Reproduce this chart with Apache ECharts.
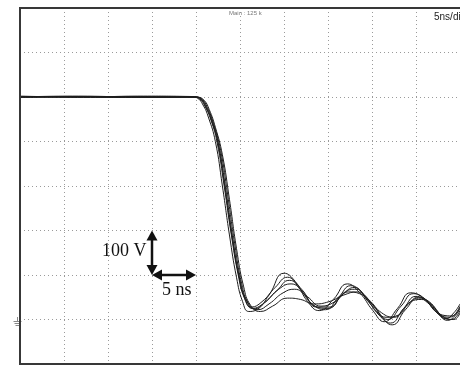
<!DOCTYPE html>
<html>
<head>
<meta charset="utf-8">
<style>
  html, body { margin: 0; padding: 0; background: #fff; }
  #scope { width: 460px; height: 365px; }
</style>
<script src="https://cdn.jsdelivr.net/npm/echarts@6/dist/echarts.min.js"></script>
</head>
<body>
<div id="scope"></div>
<script>
// Time base 5 ns/div over 10 divisions; vertical 100 V/div, ground at 0 V.
const timeRange = [0, 50];
const timeStep = 5;
const voltRange = [-100, 700];
const voltStep = 100;

// Overlaid acquisitions of the falling edge: [time ns, volts]
const sweep1 = [[0,500],[6,501],[12,499],[19.6,500],[20.2,497],[20.8,482],[21.4,455],[22.2,400],[23.0,300],[23.8,190],[24.6,95],[25.3,40],[26.0,18],[26.9,22],[28.3,55],[30.0,104],[31.3,85],[32.7,40],[34.0,20],[35.6,45],[37.2,80],[38.6,60],[40.1,20],[41.4,-5],[42.9,25],[44.4,60],[45.7,50],[47.2,20],[48.4,2],[49.3,15],[50,35]];
const sweep2 = [[0,502],[7,500],[14,502],[19.8,501],[20.5,496],[21.1,478],[21.8,445],[22.5,395],[23.3,295],[24.1,185],[24.9,95],[25.6,45],[26.4,25],[27.6,35],[29.2,65],[30.6,88],[32.0,68],[33.5,30],[35.0,25],[36.6,55],[38.0,72],[39.3,48],[40.8,10],[42.1,-8],[43.6,25],[45.0,52],[46.3,38],[47.8,8],[49.0,0],[50,20]];
const sweep3 = [[0,499],[5,500],[11,501],[20.0,500],[20.7,495],[21.3,476],[22.0,440],[22.8,380],[23.6,280],[24.4,170],[25.2,80],[26.0,35],[27.0,22],[28.3,35],[29.9,60],[31.2,68],[32.6,52],[34.2,30],[35.8,40],[37.3,62],[38.6,58],[40.0,35],[41.6,5],[43.0,10],[44.4,40],[45.6,45],[47.1,25],[48.6,-2],[49.5,10],[50,25]];
const sweep4 = [[0,501],[8,499],[15,500],[19.7,500],[20.4,496],[21.0,480],[21.7,448],[22.4,398],[23.2,300],[24.0,192],[24.8,100],[25.5,48],[26.3,28],[27.5,40],[29.0,72],[30.4,95],[31.7,72],[33.2,35],[34.7,22],[36.2,50],[37.6,76],[38.9,60],[40.4,25],[41.8,0],[43.3,30],[44.7,58],[45.9,48],[47.4,15],[48.8,5],[50,30]];
const sweep5 = [[0,500],[6,502],[13,500],[20.2,499],[20.9,493],[21.5,472],[22.2,432],[23.0,370],[23.8,270],[24.6,160],[25.4,75],[26.2,32],[27.3,18],[28.7,30],[30.4,48],[31.9,45],[33.4,35],[35.1,40],[36.8,55],[38.3,62],[39.6,45],[41.1,15],[42.5,5],[43.9,30],[45.3,50],[46.7,35],[48.2,5],[49.3,0],[50,15]];
const sweep6 = [[0,500],[9,501],[16,499],[19.9,500],[20.6,495],[21.2,477],[21.9,442],[22.6,390],[23.4,290],[24.2,180],[25.0,88],[25.8,40],[26.6,24],[27.8,38],[29.4,68],[30.8,80],[32.2,60],[33.7,28],[35.2,28],[36.8,60],[38.2,68],[39.5,42],[41.0,8],[42.3,-12],[43.8,22],[45.3,48],[46.5,40],[48.0,10],[49.1,8],[50,28]];
const sweeps = [sweep1, sweep2, sweep3, sweep4, sweep5, sweep6];

// Scale markers: one division in each direction, from the shared corner
const markerCorner = [15, 100];
const voltMarkerEnd = [15, 200];
const timeMarkerEnd = [20, 100];
const voltMarkerText = '100 V';
const timeMarkerText = '5 ns';
const recordText = 'Main : 125 k';
const timebaseText = '5ns/div';

const chart = echarts.init(document.getElementById('scope'), null, { renderer: 'canvas' });

const dotted = { type: [1, 3], color: '#9a9a9a', width: 1 };

chart.setOption({
  animation: false,
  backgroundColor: '#fff',
  grid: { left: 20, top: 8, width: 446, height: 356, show: false },
  xAxis: {
    type: 'value', min: timeRange[0], max: timeRange[1], interval: timeStep,
    axisLine: { show: false }, axisTick: { show: false }, axisLabel: { show: false },
    splitLine: { show: true, lineStyle: dotted }
  },
  yAxis: {
    type: 'value', min: voltRange[0], max: voltRange[1], interval: voltStep,
    axisLine: { show: false }, axisTick: { show: false }, axisLabel: { show: false },
    splitLine: { show: true, lineStyle: dotted }
  },
  series: sweeps.map(function (pts) {
    return {
      type: 'line',
      data: pts,
      showSymbol: false,
      smooth: 0.5,
      silent: true,
      lineStyle: { color: '#1e1e1e', width: 1 },
      z: 5
    };
  })
});

// Frame and annotations placed from the axis scales
const px = function (p) { return chart.convertToPixel({ gridIndex: 0 }, p); };
const topLeft = px([timeRange[0], voltRange[1]]);
const bottomLeft = px([timeRange[0], voltRange[0]]);
const bottomRight = px([timeRange[1], voltRange[0]]);
const topRight = px([timeRange[1], voltRange[1]]);
const corner = px(markerCorner);
const vEnd = px(voltMarkerEnd);
const tEnd = px(timeMarkerEnd);
const gnd = px([0, 0]);

const headLen = 10, headHalf = 5.5;
const ink = '#111';
function head(tip, dir) {
  // dir: unit vector pointing toward the tip
  const bx = tip[0] - dir[0] * headLen, by = tip[1] - dir[1] * headLen;
  const nx = -dir[1] * headHalf, ny = dir[0] * headHalf;
  return {
    type: 'polygon', z: 20,
    shape: { points: [[tip[0], tip[1]], [bx + nx, by + ny], [bx - nx, by - ny]] },
    style: { fill: ink }
  };
}

chart.setOption({
  graphic: [
    {
      type: 'polyline', z: 15,
      shape: { points: [topRight, topLeft, bottomLeft, bottomRight] },
      style: { stroke: '#383838', lineWidth: 2, fill: null }
    },
    { type: 'line', z: 19, shape: { x1: corner[0], y1: corner[1] - 4, x2: vEnd[0], y2: vEnd[1] + 4 }, style: { stroke: ink, lineWidth: 2.5 } },
    { type: 'line', z: 19, shape: { x1: corner[0] + 4, y1: corner[1], x2: tEnd[0] - 4, y2: tEnd[1] }, style: { stroke: ink, lineWidth: 2.5 } },
    head(vEnd, [0, -1]),
    head(corner, [0, 1]),
    head(corner, [-1, 0]),
    head(tEnd, [1, 0]),
    {
      type: 'text', left: corner[0] - 50, top: (corner[1] + vEnd[1]) / 2 - 10,
      style: { text: voltMarkerText, font: '18px "Liberation Serif", serif', fill: '#111' }
    },
    {
      type: 'text', left: (corner[0] + tEnd[0]) / 2 - 12, top: corner[1] + 6,
      style: { text: timeMarkerText, font: '18px "Liberation Serif", serif', fill: '#111' }
    },
    {
      type: 'text', left: 229, top: 10,
      style: { text: recordText, font: '6px "Liberation Sans", sans-serif', fill: '#777' }
    },
    {
      type: 'text', left: 434, top: 12,
      style: { text: timebaseText, font: '10px "Liberation Sans", sans-serif', fill: '#222' }
    },
    {
      type: 'group', left: gnd[0] - 9, top: gnd[1] - 5,
      children: [
        { type: 'line', shape: { x1: 4, y1: 0, x2: 4, y2: 4 }, style: { stroke: '#888', lineWidth: 1 } },
        { type: 'line', shape: { x1: 0, y1: 4.5, x2: 8, y2: 4.5 }, style: { stroke: '#888', lineWidth: 1 } },
        { type: 'line', shape: { x1: 1, y1: 6.5, x2: 7, y2: 6.5 }, style: { stroke: '#888', lineWidth: 1 } },
        { type: 'line', shape: { x1: 2, y1: 8.5, x2: 6, y2: 8.5 }, style: { stroke: '#888', lineWidth: 1 } }
      ]
    }
  ]
});
</script>
</body>
</html>
